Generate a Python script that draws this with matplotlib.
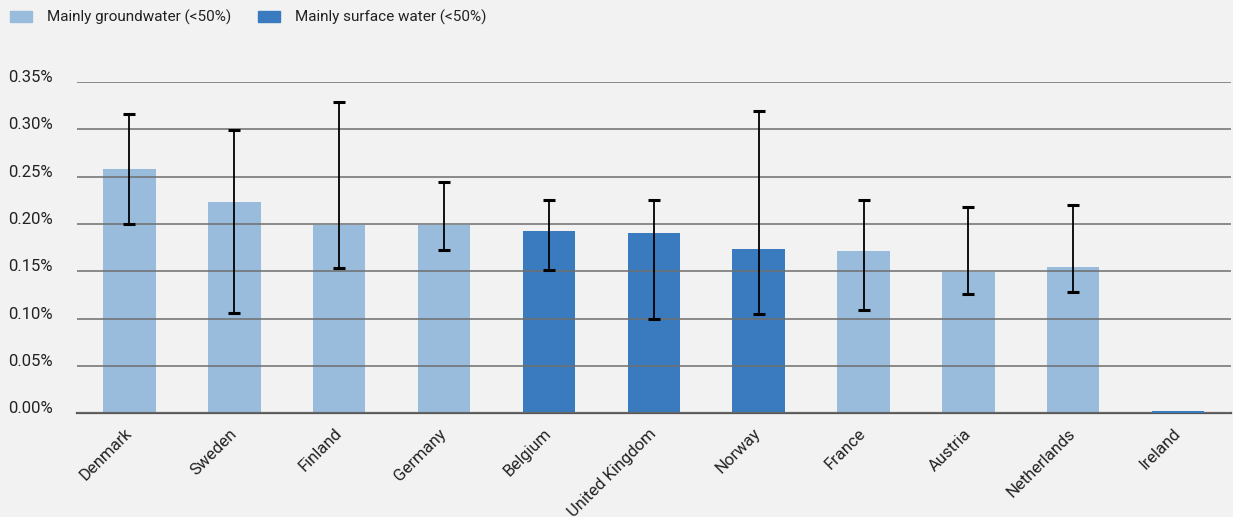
import numpy as np
import matplotlib.pyplot as plt
from matplotlib.patches import Patch

plt.rcParams['font.family'] = ['Roboto', 'DejaVu Sans']

# 数据（单位：%）
countries = ['Denmark', 'Sweden', 'Finland', 'Germany', 'Belgium', 'United Kingdom',
             'Norway', 'France', 'Austria', 'Netherlands', 'Ireland']
values = [0.258, 0.223, 0.199, 0.199, 0.193, 0.191, 0.174, 0.171, 0.149, 0.155, 0.002]
err_low = [0.200, 0.106, 0.153, 0.173, 0.151, 0.099, 0.105, 0.109, 0.126, 0.128, np.nan]
err_high = [0.316, 0.299, 0.329, 0.244, 0.225, 0.225, 0.320, 0.225, 0.218, 0.220, np.nan]
# 水源类型：g = 地下水为主, s = 地表水为主
source = ['g', 'g', 'g', 'g', 's', 's', 's', 'g', 'g', 'g', 's']

light = '#99bcdd'
dark = '#3a7bbf'
bg = '#f2f2f2'

fig = plt.figure(figsize=(12.33, 5.17), dpi=100, facecolor=bg)
ax = fig.add_axes([0.0625, 0.201, 0.9355, 0.640], facecolor=bg)
ax.set_axisbelow(False)  # 网格线画在柱子上面

x = np.arange(len(countries))
colors = [light if s == 'g' else dark for s in source]
bars = ax.bar(x, values, width=0.5, color=colors, zorder=2)
bars[-1].set_zorder(3)  # Ireland 太矮，放到底线上面

# 非对称误差线
vals = np.array(values)
lo = vals - np.array(err_low)
hi = np.array(err_high) - vals
ax.errorbar(x, vals, yerr=[lo, hi], fmt='none', ecolor='black',
            elinewidth=1.3, capsize=4.5, capthick=2.2, zorder=4)

ax.set_xlim(-0.5, len(countries) - 0.5)
ax.set_ylim(0, 0.35)
yt = np.arange(0, 0.351, 0.05)
ax.set_yticks(yt)
ax.set_yticklabels(['%.2f%%' % v for v in yt], fontsize=12, color='#222222',
                   ha='left', va='baseline')
ax.tick_params(axis='y', length=0, pad=49.5)
ax.set_xticks(x)
ax.set_xticklabels(countries, rotation=45, ha='right', va='center',
                   rotation_mode='anchor', fontsize=12, color='#222222')
ax.tick_params(axis='x', length=0, pad=13)

ax.grid(axis='y', color='#6e6e6e', linewidth=1.1)
for side in ['top', 'right', 'left']:
    ax.spines[side].set_visible(False)
ax.spines['bottom'].set_color('#555555')
ax.spines['bottom'].set_linewidth(1.6)

# 图例
handles = [Patch(color=light, label='Mainly groundwater (<50%)'),
           Patch(color=dark, label='Mainly surface water (<50%)')]
fig.legend(handles=handles, loc='upper left', bbox_to_anchor=(-0.003, 1.007), ncol=2,
           frameon=False, fontsize=11, handlelength=1.45, handleheight=0.72,
           columnspacing=1.7, handletextpad=1.0, labelcolor='#222222')

fig.savefig('out.png', dpi=100, facecolor=bg)
